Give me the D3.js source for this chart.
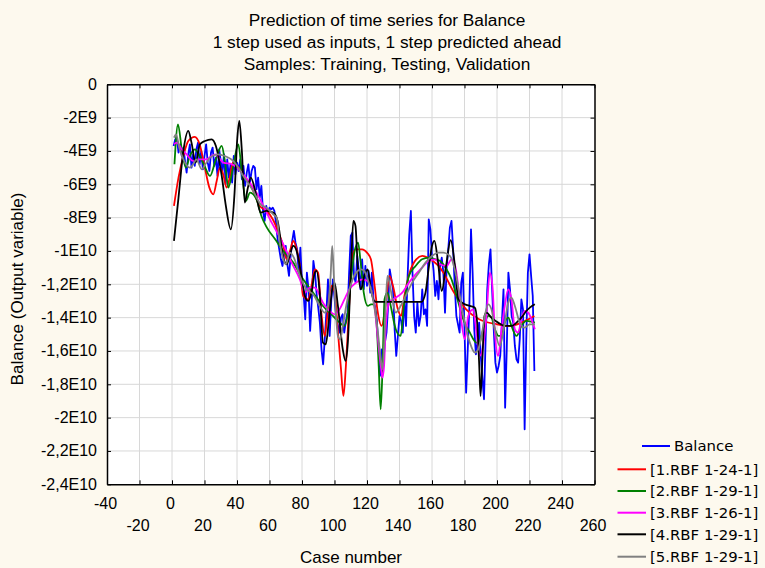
<!DOCTYPE html>
<html><head><meta charset="utf-8">
<script src="https://cdn.jsdelivr.net/npm/d3@7/dist/d3.min.js"></script>
<style>body{margin:0;background:#fdf9ee;}svg{display:block;}</style>
</head><body>
<svg id="chart" width="765" height="568"></svg>
<script>
// ---------------- data (values in units of 1E9) ----------------
const titleLines = ["Prediction of time series for Balance",
  "1 step used as inputs, 1 step predicted ahead",
  "Samples: Training, Testing, Validation"];
const xTicks = [-40,-20,0,20,40,60,80,100,120,140,160,180,200,220,240,260];
const yTicks = [0,-2e9,-4e9,-6e9,-8e9,-1e10,-1.2e10,-1.4e10,-1.6e10,-1.8e10,-2e10,-2.2e10,-2.4e10];
const yTickLabels = ["0","-2E9","-4E9","-6E9","-8E9","-1E10","-1,2E10","-1,4E10","-1,6E10","-1,8E10","-2E10","-2,2E10","-2,4E10"];
const seriesNames = ["Balance","[1.RBF 1-24-1]","[2.RBF 1-29-1]","[3.RBF 1-26-1]","[4.RBF 1-29-1]","[5.RBF 1-29-1]"];
const seriesColors = ["#0000ff","#ff0000","#008000","#ff00ff","#000000","#808080"];

const balance = [
 -3.7,-3.3,-3.2,-4.1,-3.6,-4.3,-3.8,-4.6,-5.3,-4.2,
 -3.6,-5.0,-4.2,-4.9,-3.9,-3.5,-4.8,-4.0,-5.1,-4.3,
 -3.6,-4.7,-5.2,-4.1,-3.8,-4.9,-4.4,-5.5,-3.9,-4.6,
 -5.3,-4.2,-6.0,-4.5,-5.6,-4.8,-5.9,-4.3,-5.4,-4.7,
 -5.2,-4.5,-5.7,-4.9,-6.1,-5.3,-4.8,-5.9,-5.2,-4.9,
 -5.0,-6.3,-5.6,-6.8,-6.1,-7.6,-8.2,-7.3,-7.8,-7.4,
 -7.5,-7.4,-7.6,-8.3,-9.3,-9.9,-10.5,-10.9,-10.2,-9.7,
 -10.8,-11.5,-10.3,-9.4,-8.8,-9.5,-9.9,-11.3,-9.8,-11.9,
 -12.6,-14.1,-11.3,-12.3,-14.8,-13.0,-10.6,-11.3,-12.6,-13.4,
 -14.3,-15.9,-16.8,-15.3,-13.7,-11.7,-15.1,-13.0,-11.7,-12.8,
 -13.9,-14.4,-14.9,-14.0,-13.8,-14.9,-14.2,-13.7,-11.3,-9.1,
 -8.9,-11.5,-11.9,-10.3,-11.2,-12.3,-10.5,-12.3,-10.9,-12.1,
 -11.2,-12.5,-11.3,-12.9,-13.4,-14.1,-15.7,-17.5,-15.9,-16.7,
 -15.5,-14.9,-13.3,-11.1,-11.7,-12.3,-14.7,-16.3,-15.1,-13.9,
 -14.2,-14.9,-12.9,-14.5,-11.5,-9.0,-7.6,-11.3,-13.9,-14.9,
 -13.1,-14.5,-13.9,-12.3,-13.8,-13.5,-14.5,-8.1,-8.7,-10.3,
 -11.2,-12.7,-11.8,-12.9,-10.9,-10.4,-11.3,-13.7,-11.0,-9.9,
 -8.6,-8.2,-9.9,-12.1,-13.9,-14.4,-14.9,-11.9,-11.3,-14.7,
 -18.5,-15.9,-13.3,-8.7,-11.3,-14.7,-16.2,-15.5,-14.3,-16.3,
 -17.6,-18.9,-15.3,-12.3,-10.8,-9.9,-12.3,-14.7,-16.7,-17.3,
 -16.9,-16.3,-14.3,-12.3,-19.4,-15.9,-11.3,-12.3,-13.9,-14.3,
 -15.7,-16.5,-16.7,-15.3,-12.9,-13.5,-20.7,-15.3,-11.3,-10.2,
 -11.5,-12.7,-17.2];
const balanceCases = balance.map((v,i)=>i+1);

// model outputs: [case, value]
const rbf1 = [[1.2,-7.3],[4,-5.6],[7,-4.3],[10,-3.4],[14,-3.15],[17,-3.6],[20,-4.9],[23,-6.2],[25.4,-6.6],[27.5,-5.8],[29.5,-5.0],[31.5,-5.4],[33.6,-6.2],[35.5,-5.6],[37.5,-4.7],[41,-5.0],[45,-5.6],[49,-6.2],[54,-7.3],[58.4,-7.6],[62,-8.1],[66,-9.0],[68.5,-9.7],[70.6,-10.5],[72.6,-10.0],[74.6,-9.4],[76.7,-9.9],[78.7,-10.9],[80.7,-12.7],[83.8,-12.9],[85.8,-12.1],[87.9,-11.1],[89.9,-11.3],[91.9,-13.7],[94,-15.1],[96,-13.5],[98,-12.1],[100,-12.4],[102,-14.7],[104,-17.1],[105.5,-18.7],[107,-16.9],[109,-13.3],[111,-10.3],[113,-9.9],[117,-9.9],[120,-10.1],[122.4,-10.5],[124.7,-12.1],[126.5,-13.6],[129,-14.5],[131.5,-13.2],[133.9,-11.5],[136,-12.1],[139,-13.5],[141,-13.9],[143,-12.7],[146.2,-11.3],[150.3,-10.5],[154,-10.3],[157.4,-10.4],[160.5,-10.6],[164,-10.9],[167,-11.3],[173,-12.4],[181,-13.5],[189,-14.1],[200,-14.4],[208,-14.5],[215,-14.3],[223,-13.9]];
const rbf2 = [[1.5,-4.8],[3.7,-2.4],[6,-3.9],[8.5,-5.0],[11,-4.3],[14,-3.9],[17,-4.3],[20,-4.9],[23.4,-5.5],[27,-4.5],[30.6,-3.7],[32.5,-4.6],[34.7,-6.2],[37.5,-5.0],[40.8,-3.6],[43,-5.3],[45.5,-7.0],[48,-6.5],[52,-6.9],[55,-7.9],[58.4,-8.6],[63.5,-9.3],[68.5,-10.0],[74.6,-10.7],[80.7,-11.7],[86.8,-12.5],[92.9,-13.3],[99,-13.9],[103.1,-14.3],[106.1,-14.5],[108.2,-13.7],[110.2,-11.7],[112.2,-10.1],[114.5,-9.5],[116,-10.6],[118,-12.5],[120.5,-13.3],[122.5,-13.2],[124.5,-13.2],[126,-14.5],[127.2,-16.9],[128.4,-19.5],[129.6,-16.9],[130.8,-12.9],[132.6,-12.5],[134.6,-13.3],[137.7,-14.7],[140.7,-15.1],[142.7,-13.3],[145.8,-11.5],[149.9,-10.9],[153.9,-10.5],[158,-10.4],[162.1,-10.5],[165,-10.6],[168.9,-11.1],[172,-11.7],[175.1,-12.7],[179.2,-14.1],[183.3,-14.9],[187.4,-15.5],[189.5,-15.4],[191.5,-14.7],[194.6,-13.9],[196.6,-14.0],[198.7,-14.7],[201,-15.1],[202.8,-15.1],[204.8,-14.3],[206.9,-14.0],[208.9,-14.5],[212,-15.1],[215,-14.5],[218.1,-14.2],[223.3,-14.3]];
const rbf3 = [[1.2,-3.6],[3,-3.5],[6,-3.9],[9,-4.2],[13,-4.6],[17,-4.5],[21,-4.5],[26.5,-4.2],[31.6,-4.7],[37,-4.8],[43.9,-5.4],[52,-6.5],[60.3,-8.1],[68.5,-9.6],[73.6,-10.7],[78.7,-11.7],[81.8,-12.5],[84.8,-12.2],[87.9,-12.2],[92.9,-13.1],[97,-13.6],[100,-13.8],[103.1,-13.5],[106.1,-12.9],[109.2,-12.3],[113.3,-11.9],[117.3,-11.7],[120.4,-11.8],[122.4,-12.3],[124.5,-13.2],[126.5,-15.1],[128.5,-16.9],[129.5,-17.6],[130.5,-16.9],[131.6,-14.5],[133.6,-13.1],[137.7,-12.8],[141.7,-12.5],[145.8,-11.9],[149.9,-11.4],[153.9,-11.0],[158,-10.6],[162,-10.5],[165,-10.8],[169,-10.9],[172,-10.5],[174,-10.8],[176.1,-12.1],[178.2,-14.3],[180.2,-15.3],[182.3,-13.9],[185.3,-13.5],[187.4,-14.9],[189.4,-16.3],[191.5,-15.7],[193.5,-13.9],[195.6,-11.3],[197.2,-12.1],[198.7,-14.9],[200.7,-16.3],[202.8,-14.7],[204.8,-13.3],[206.9,-12.3],[208.9,-12.9],[211,-14.7],[213,-14.9],[215,-14.1],[217.1,-13.6],[219.2,-13.7],[221.2,-14.1],[223.3,-14.7]];
const rbf4 = [[1.2,-9.4],[4,-6.8],[7,-4.0],[10,-2.8],[12,-3.5],[14.5,-4.7],[17.2,-3.6],[20.3,-3.4],[24.4,-3.3],[27,-3.7],[30.6,-5.5],[33,-7.2],[36.2,-8.7],[38.5,-6.5],[40,-3.5],[41.4,-2.2],[43,-4.0],[44.8,-7.1],[46.5,-6.3],[48.5,-5.6],[51.5,-6.5],[54.5,-7.7],[58,-7.6],[62.3,-7.7],[65,-8.2],[68.5,-10.4],[70.6,-10.8],[72.6,-10.2],[74.6,-9.7],[76.7,-10.0],[79.7,-11.5],[81.8,-12.7],[83.8,-13.0],[85.8,-12.5],[87.9,-11.3],[88.9,-11.2],[90.9,-12.5],[92.9,-15.5],[94.6,-15.6],[96.6,-14.1],[98.6,-12.3],[100,-11.9],[102.1,-13.3],[105.1,-15.9],[106.8,-16.6],[108.2,-15.5],[110.2,-10.9],[111.6,-8.2],[112.9,-8.5],[114.3,-10.9],[116.3,-12.3],[118.3,-11.5],[120.4,-11.1],[122.4,-12.3],[124.4,-13.0],[126,-13.06],[153.5,-13.06],[156,-12.5],[158,-11.0],[160,-9.7],[161.5,-9.4],[163.5,-10.5],[166,-12.4],[168.5,-11.0],[171.5,-9.35],[174,-10.8],[176.2,-12.9],[180.2,-13.2],[183.3,-13.3],[186.4,-13.4],[187.8,-14.3],[189,-16.7],[189.9,-18.7],[191.1,-16.3],[192.3,-13.9],[193.5,-13.7],[196.6,-14.0],[200.7,-14.3],[204.8,-14.5],[208.9,-14.5],[212,-14.3],[215,-14.0],[218.1,-13.6],[220.2,-13.4],[223.3,-13.2]];
const rbf5 = [[1.2,-3.2],[2.5,-3.0],[4.5,-3.8],[7,-4.5],[11,-5.0],[13,-4.8],[15,-4.5],[18.3,-5.1],[20.5,-4.8],[23.4,-4.4],[28,-4.2],[32.6,-4.3],[37.7,-4.6],[43.9,-5.5],[50,-6.4],[54.5,-7.2],[58,-7.4],[62.3,-7.8],[64.4,-8.0],[66.5,-9.6],[68.5,-10.5],[70,-10.8],[72.6,-10.1],[75,-10.4],[78.7,-11.5],[82.8,-12.3],[86.8,-12.6],[90.9,-13.3],[94,-13.7],[96,-13.3],[97.6,-11.5],[98.6,-9.7],[99.6,-11.5],[101.1,-14.1],[102.1,-15.1],[103.5,-15.3],[105.1,-14.5],[107.2,-13.3],[109.2,-12.3],[111.2,-11.7],[113.3,-11.3],[116.3,-11.1],[118.3,-11.2],[120.4,-11.7],[122.4,-12.3],[124.4,-13.3],[126.5,-14.7],[128.5,-16.5],[129.5,-17.1],[130.5,-15.8],[131.6,-13.1],[132.6,-11.5],[133.6,-11.8],[135.6,-12.9],[137.7,-13.7],[140.7,-13.3],[143.8,-12.7],[147.8,-11.9],[151.9,-11.3],[156,-10.7],[160,-10.3],[164.1,-10.1],[167,-10.1],[171,-10.3],[174,-11.1],[177.1,-12.7],[180.2,-14.3],[183.3,-15.5],[186.4,-16.1],[188.4,-15.9],[190.5,-15.1],[192.5,-13.9],[194.6,-13.2],[196.6,-13.5],[198.7,-14.7],[201.7,-15.7],[204.8,-14.3],[206.9,-13.1],[208.9,-12.8],[211,-13.3],[214,-14.3],[217.1,-14.6],[220,-14.4],[223.3,-14.4]];

// ---------------- drawing ----------------
const UNIT = 1e9;
const svg = d3.select("#chart");
const font = "'Liberation Sans', Arial, sans-serif";
const legFont = "'DejaVu Sans', Verdana, sans-serif";
svg.append("rect").attr("width",765).attr("height",568).attr("fill","#fdf9ee");

const x = d3.scaleLinear().domain([-40,260]).range([107,594.5]);
const y = d3.scaleLinear().domain([-2.4e10,0]).range([484.3,84.3]);

// plot area
svg.append("rect").attr("x",x(-40)).attr("y",y(0)).attr("width",x(260)-x(-40)).attr("height",y(-2.4e10)-y(0)).attr("fill","#ffffff");

// grid
const grid = svg.append("g").attr("stroke","#d8d8d8").attr("stroke-width",1);
grid.selectAll("line.v").data(xTicks.slice(1,-1)).join("line")
  .attr("x1",d=>x(d)).attr("x2",d=>x(d)).attr("y1",y(0)).attr("y2",y(-2.4e10));
grid.selectAll("line.h").data(yTicks.slice(1,-1)).join("line").attr("class","h")
  .attr("x1",x(-40)).attr("x2",x(260)).attr("y1",d=>y(d)).attr("y2",d=>y(d));

// series
const plot = svg.append("g");
const lineB = d3.line().x(d=>x(d[0])).y(d=>y(d[1]*UNIT));
plot.append("path").datum(balanceCases.map((c,i)=>[c,balance[i]]))
  .attr("d",lineB).attr("fill","none").attr("stroke",seriesColors[0]).attr("stroke-width",1.8).attr("stroke-linejoin","round");
const lineM = d3.line().x(d=>x(d[0])).y(d=>y(d[1]*UNIT)).curve(d3.curveMonotoneX);
[rbf1,rbf2,rbf3,rbf4,rbf5].forEach((s,i)=>{
  plot.append("path").datum(s).attr("d",lineM).attr("fill","none")
    .attr("stroke",seriesColors[i+1]).attr("stroke-width",1.8);
});

// axes (inward ticks on all sides)
const tk = 4;
svg.append("g").attr("transform",`translate(0,${y(-2.4e10)})`)
  .call(d3.axisBottom(x).tickValues(xTicks).tickSize(-tk).tickSizeOuter(0).tickFormat(""));
svg.append("g").attr("transform",`translate(0,${y(0)})`)
  .call(d3.axisTop(x).tickValues(xTicks).tickSize(-tk).tickSizeOuter(0).tickFormat(""));
svg.append("g").attr("transform",`translate(${x(-40)},0)`)
  .call(d3.axisLeft(y).tickValues(yTicks).tickSize(-tk).tickSizeOuter(0).tickFormat(""));
svg.append("g").attr("transform",`translate(${x(260)},0)`)
  .call(d3.axisRight(y).tickValues(yTicks).tickSize(-tk).tickSizeOuter(0).tickFormat(""));
svg.selectAll(".domain").attr("stroke","#000").attr("stroke-width",1.5);
svg.selectAll(".tick line").attr("stroke","#000").attr("stroke-width",1);

// tick labels
svg.append("g").selectAll("text").data(xTicks).join("text")
  .attr("x",d=>x(d)-1.5).attr("y",(d,i)=> i%2===0 ? 509 : 531)
  .attr("text-anchor","middle").attr("font-family",font).attr("font-size",16).attr("fill","#000")
  .text(d=>String(d));
svg.append("g").selectAll("text").data(yTicks).join("text")
  .attr("x",97).attr("y",d=>y(d)+5.5)
  .attr("text-anchor","end").attr("font-family",font).attr("font-size",16).attr("fill","#000")
  .text((d,i)=>yTickLabels[i]);

// axis titles
svg.append("text").attr("x",351).attr("y",563).attr("text-anchor","middle")
  .attr("font-family",font).attr("font-size",17).text("Case number");
svg.append("text").attr("transform","translate(23,289) rotate(-90)").attr("text-anchor","middle")
  .attr("font-family",font).attr("font-size",17).text("Balance (Output variable)");

// title
svg.append("g").selectAll("text").data(titleLines).join("text")
  .attr("x",387).attr("y",(d,i)=>25.5+i*22.3).attr("text-anchor","middle")
  .attr("font-family",font).attr("font-size",17.3).attr("fill","#000").text(d=>d);

// legend
const legRows = [446,469.3,491,512.7,534.3,556.7];
const leg = svg.append("g");
seriesNames.forEach((n,i)=>{
  const x0 = i===0 ? 642 : 617.5, x1 = i===0 ? 670 : 646, tx = i===0 ? 674 : 650;
  leg.append("line").attr("x1",x0).attr("x2",x1).attr("y1",legRows[i]).attr("y2",legRows[i])
    .attr("stroke",seriesColors[i]).attr("stroke-width",2);
  leg.append("text").attr("x",tx).attr("y",legRows[i]+5.3).attr("font-family",legFont)
    .attr("font-size",14.9).attr("fill","#000").text(n);
});
</script>
</body></html>
